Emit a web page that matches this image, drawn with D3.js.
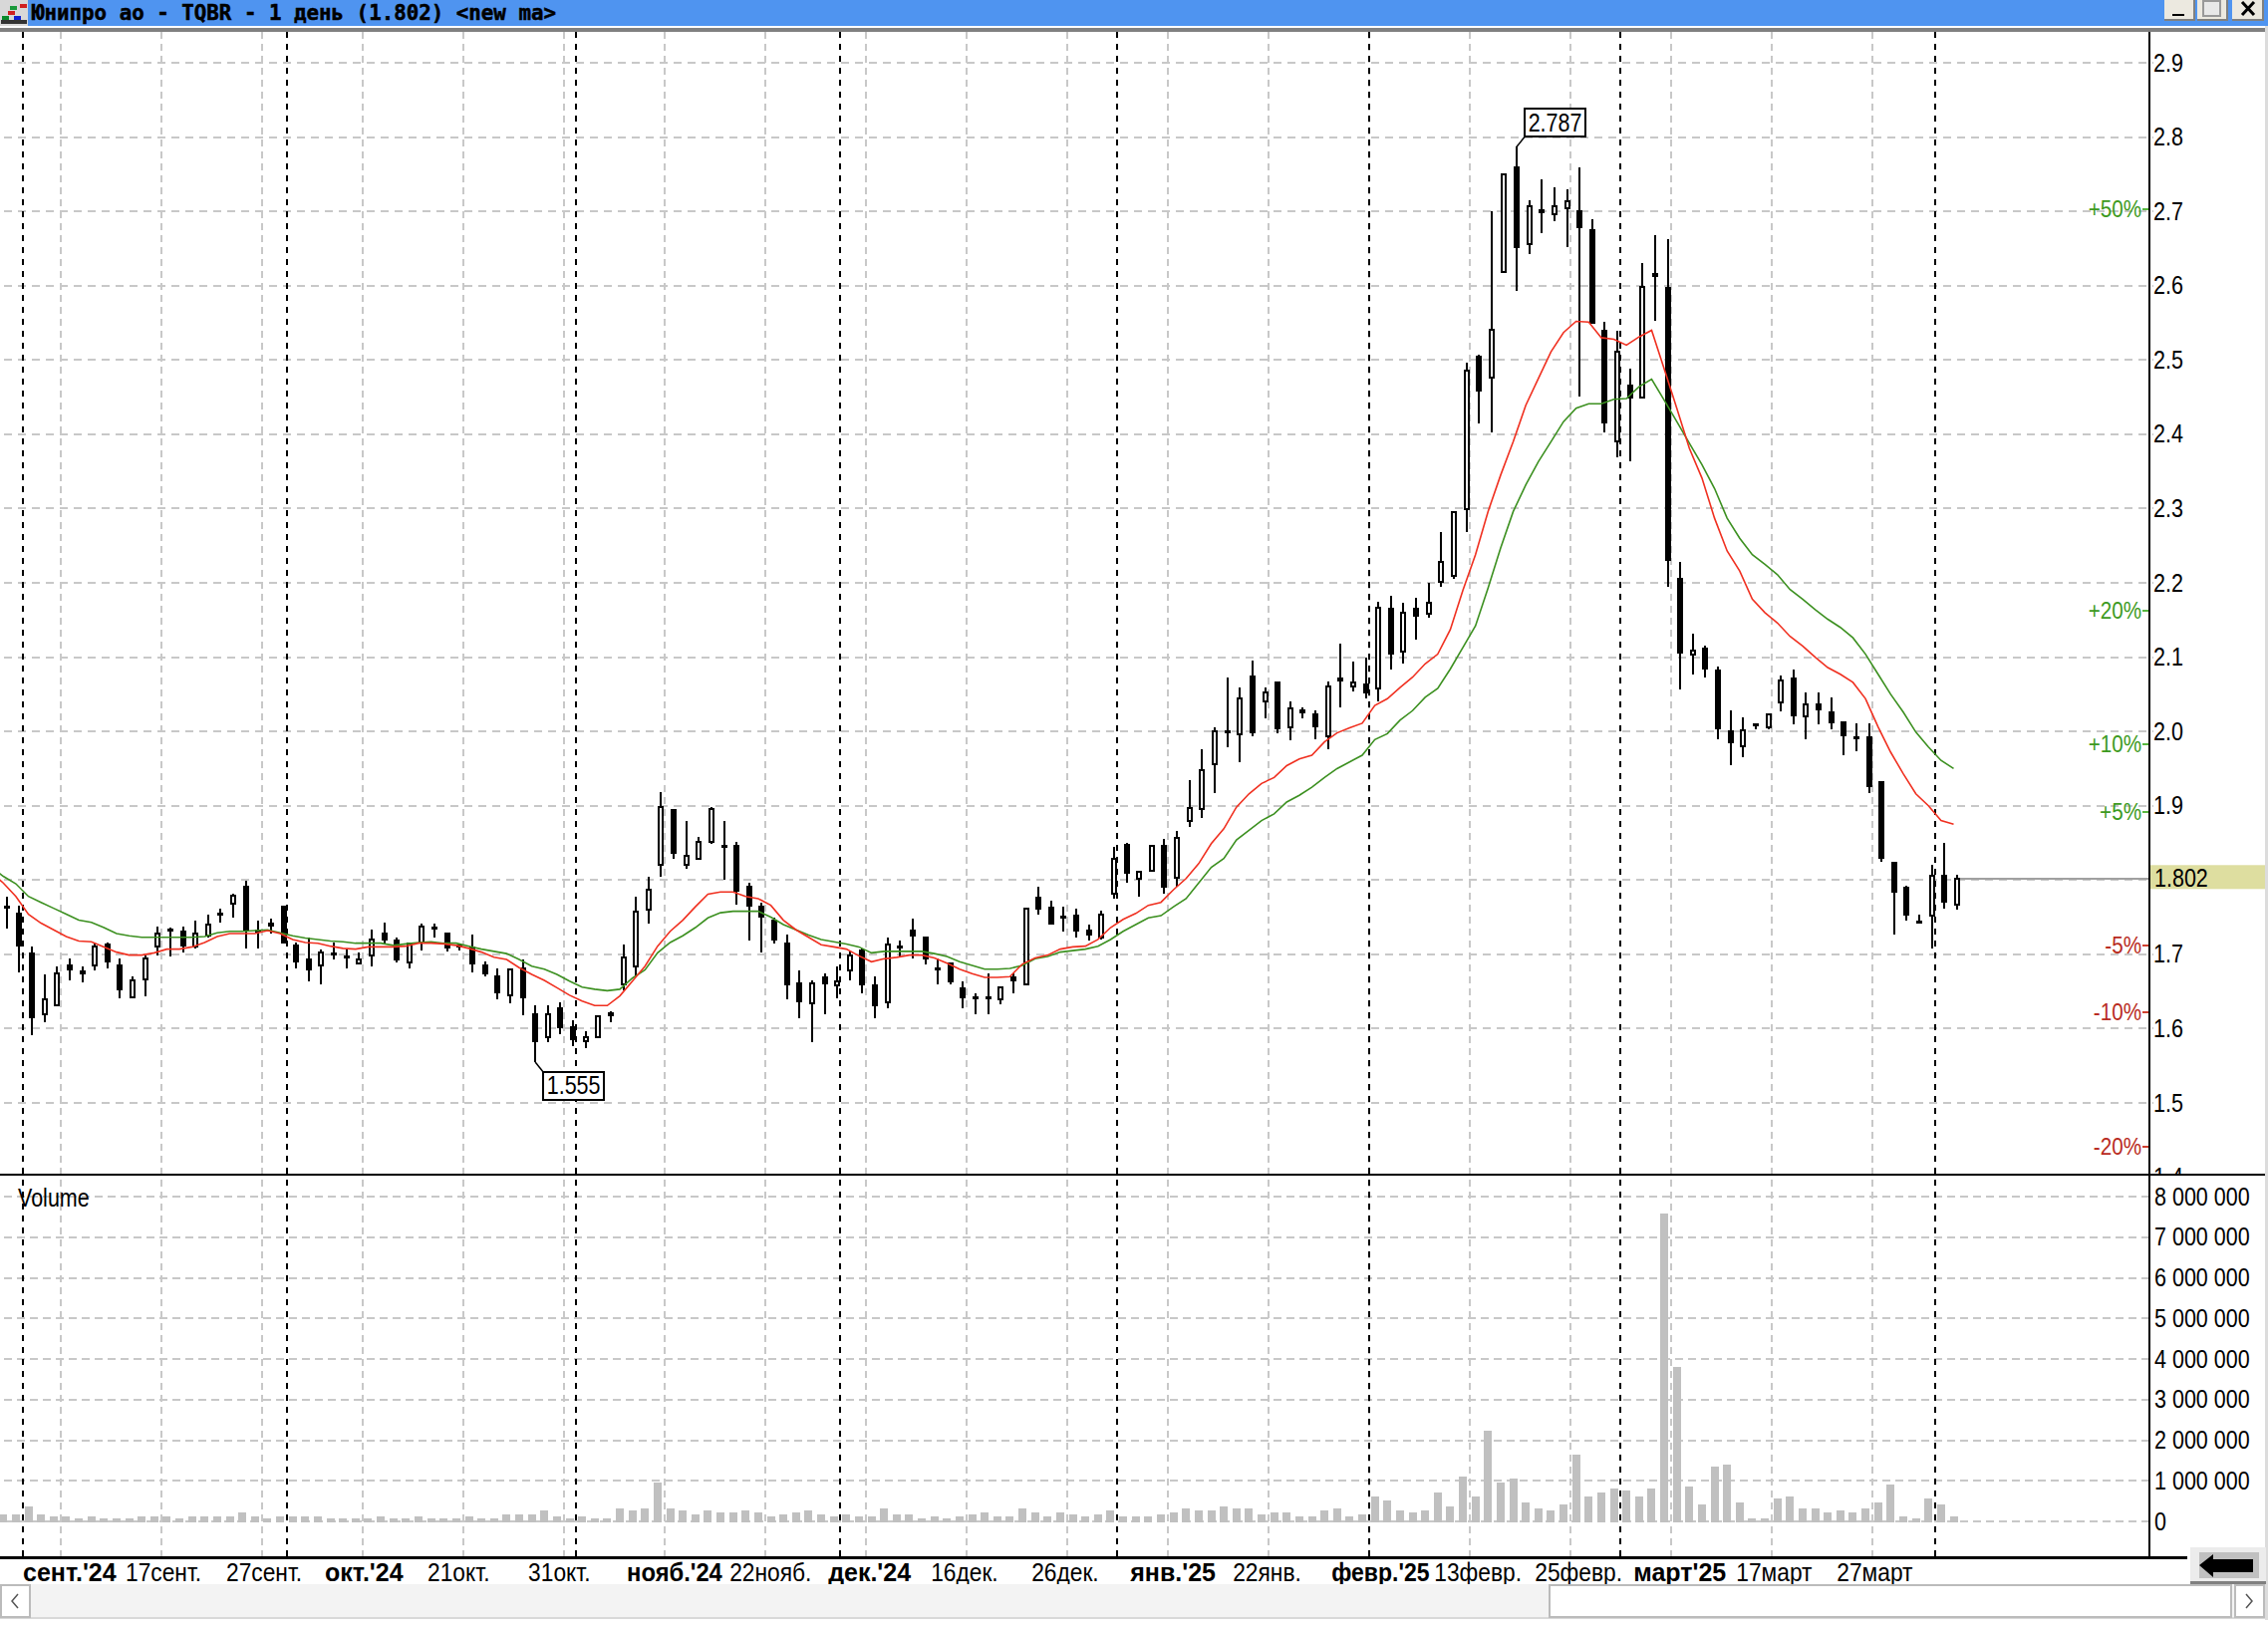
<!DOCTYPE html>
<html><head><meta charset="utf-8">
<style>html,body{margin:0;padding:0;background:#fff}svg{display:block}
text{font-family:"Liberation Sans",sans-serif}</style>
<script src="https://cdn.jsdelivr.net/npm/d3@7/dist/d3.min.js"></script>
</head><body><svg id="c" width="2276" height="1632"></svg>
<script>
const highs=[1.778,1.766,1.711,1.673,1.684,1.694,1.684,1.715,1.716,1.694,
1.670,1.699,1.737,1.736,1.737,1.745,1.754,1.761,1.782,1.799,
1.745,1.748,1.766,1.716,1.722,1.707,1.716,1.707,1.702,1.734,
1.743,1.723,1.716,1.742,1.742,1.729,1.715,1.726,1.690,1.681,
1.681,1.693,1.632,1.632,1.635,1.611,1.597,1.617,1.624,1.713,
1.778,1.804,1.918,1.896,1.879,1.858,1.898,1.879,1.852,1.796,
1.769,1.749,1.726,1.678,1.665,1.675,1.684,1.704,1.708,1.670,
1.723,1.718,1.748,1.724,1.694,1.689,1.664,1.648,1.675,1.657,
1.675,1.763,1.791,1.772,1.764,1.761,1.740,1.759,1.845,1.850,
1.812,1.847,1.855,1.866,1.935,1.976,2.005,2.073,2.059,2.096,
2.059,2.067,2.040,2.032,2.029,2.067,2.118,2.094,2.099,2.175,
2.183,2.173,2.180,2.200,2.268,2.297,2.496,2.507,2.700,2.751,
2.787,2.715,2.743,2.732,2.730,2.759,2.689,2.552,2.539,2.488,
2.630,2.668,2.663,2.228,2.132,2.115,2.088,2.029,2.019,2.0105,
2.024,2.075,2.083,2.053,2.053,2.046,2.014,2.011,2.011,1.933,
1.825,1.793,1.753,1.820,1.850,1.807];
const lows=[1.735,1.676,1.591,1.609,1.630,1.665,1.662,1.679,1.681,1.641,
1.641,1.643,1.699,1.697,1.703,1.708,1.722,1.743,1.749,1.708,
1.708,1.728,1.714,1.681,1.663,1.660,1.693,1.681,1.687,1.684,
1.715,1.689,1.681,1.705,1.722,1.704,1.705,1.676,1.670,1.639,
1.634,1.618,1.555,1.582,1.593,1.576,1.574,1.588,1.609,1.652,
1.670,1.741,1.804,1.829,1.815,1.829,1.848,1.801,1.767,1.719,
1.702,1.714,1.639,1.614,1.582,1.620,1.641,1.665,1.647,1.614,
1.628,1.697,1.695,1.687,1.660,1.660,1.628,1.620,1.620,1.633,
1.647,1.660,1.754,1.740,1.730,1.722,1.719,1.720,1.775,1.797,
1.778,1.813,1.781,1.791,1.871,1.883,1.917,1.979,1.958,1.993,
2.017,1.998,1.988,2.017,1.990,1.976,2.032,2.054,2.044,2.040,
2.084,2.092,2.124,2.153,2.195,2.205,2.269,2.414,2.403,2.618,
2.593,2.642,2.671,2.687,2.652,2.451,2.549,2.403,2.369,2.363,
2.448,2.553,2.194,2.057,2.076,2.073,1.990,1.955,1.965,2.003,
2.003,2.027,2.009,1.990,2.009,2.003,1.968,1.974,1.917,1.824,
1.727,1.746,1.743,1.708,1.762,1.760];
const opens=[1.766,1.756,1.703,1.620,1.631,1.686,1.678,1.685,1.715,1.686,
1.642,1.666,1.711,1.735,1.732,1.710,1.725,1.756,1.768,1.793,
1.734,1.743,1.766,1.713,1.694,1.685,1.702,1.699,1.688,1.698,
1.729,1.720,1.689,1.716,1.737,1.729,1.713,1.710,1.686,1.672,
1.645,1.682,1.621,1.588,1.629,1.603,1.583,1.588,1.622,1.659,
1.684,1.760,1.821,1.896,1.821,1.829,1.851,1.847,1.847,1.793,
1.766,1.747,1.716,1.662,1.634,1.670,1.658,1.679,1.707,1.659,
1.636,1.712,1.734,1.724,1.683,1.689,1.656,1.643,1.643,1.639,
1.670,1.660,1.778,1.764,1.752,1.753,1.734,1.722,1.782,1.849,
1.802,1.813,1.847,1.803,1.880,1.896,1.956,2.002,1.996,2.075,
2.041,2.067,2.006,2.030,2.024,1.993,2.073,2.060,2.065,2.058,
2.166,2.108,2.166,2.159,2.202,2.210,2.299,2.506,2.476,2.618,
2.761,2.656,2.703,2.696,2.704,2.702,2.676,2.541,2.390,2.467,
2.449,2.617,2.598,2.207,2.104,2.113,2.083,2.002,1.980,2.0105,
2.005,2.039,2.072,2.020,2.038,2.027,2.014,1.994,1.994,1.933,
1.824,1.791,1.745,1.752,1.807,1.767];
const closes=[1.762,1.711,1.614,1.640,1.675,1.679,1.673,1.710,1.689,1.652,
1.665,1.694,1.728,1.733,1.710,1.728,1.740,1.754,1.779,1.731,
1.731,1.737,1.714,1.689,1.679,1.702,1.701,1.695,1.693,1.720,
1.719,1.692,1.715,1.737,1.733,1.708,1.712,1.687,1.673,1.647,
1.680,1.641,1.582,1.619,1.601,1.584,1.589,1.616,1.617,1.696,
1.758,1.787,1.898,1.835,1.833,1.852,1.895,1.846,1.784,1.764,
1.749,1.719,1.658,1.636,1.661,1.660,1.664,1.699,1.658,1.630,
1.713,1.711,1.724,1.693,1.682,1.662,1.641,1.639,1.642,1.656,
1.663,1.761,1.760,1.740,1.751,1.730,1.725,1.753,1.828,1.808,
1.811,1.846,1.789,1.857,1.897,1.948,2.000,1.998,2.045,1.998,
2.052,2.003,2.031,2.025,2.006,2.061,2.067,2.066,2.051,2.166,
2.103,2.160,2.154,2.173,2.228,2.295,2.485,2.457,2.541,2.750,
2.650,2.707,2.698,2.707,2.713,2.677,2.549,2.414,2.511,2.448,
2.598,2.612,2.229,2.105,2.109,2.084,2.003,1.984,2.002,2.009,
2.023,2.069,2.020,2.037,2.028,2.011,1.993,1.990,1.925,1.829,
1.783,1.752,1.7435,1.806,1.770,1.802];
// moving averages: first value belongs to the bar just left of the visible window
const maRed=[1.811,1.796,1.778,1.754,1.742,1.733,1.724,1.718,1.717,1.710,1.703,
1.699,1.699,1.702,1.707,1.707,1.710,1.716,1.724,1.728,1.728,
1.728,1.732,1.728,1.720,1.716,1.715,1.711,1.708,1.707,1.710,
1.710,1.710,1.711,1.715,1.715,1.714,1.712,1.708,1.703,1.696,
1.693,1.682,1.673,1.665,1.655,1.645,1.637,1.631,1.631,1.644,
1.664,1.684,1.711,1.731,1.746,1.764,1.781,1.784,1.784,1.778,
1.775,1.766,1.746,1.733,1.723,1.713,1.710,1.707,1.698,1.690,
1.694,1.696,1.699,1.699,1.695,1.688,1.680,1.674,1.669,1.669,
1.670,1.687,1.695,1.699,1.707,1.710,1.711,1.720,1.736,1.747,
1.755,1.766,1.770,1.787,1.802,1.822,1.849,1.869,1.898,1.916,
1.930,1.938,1.954,1.963,1.968,1.986,1.998,2.005,2.011,2.035,
2.044,2.059,2.073,2.091,2.104,2.137,2.190,2.238,2.296,2.345,
2.390,2.439,2.475,2.511,2.537,2.552,2.551,2.530,2.528,2.520,
2.531,2.540,2.488,2.435,2.381,2.341,2.287,2.243,2.216,2.178,
2.160,2.146,2.128,2.115,2.100,2.086,2.077,2.066,2.044,2.006,
1.972,1.943,1.916,1.900,1.880,1.875];
const maGreen=[1.818,1.805,1.795,1.778,1.770,1.762,1.754,1.746,1.743,1.736,1.728,
1.725,1.723,1.723,1.723,1.723,1.723,1.724,1.729,1.731,1.731,
1.732,1.733,1.729,1.725,1.722,1.720,1.718,1.717,1.715,1.715,
1.715,1.712,1.714,1.716,1.717,1.715,1.715,1.711,1.707,1.704,
1.701,1.693,1.684,1.680,1.673,1.664,1.656,1.653,1.651,1.653,
1.668,1.679,1.702,1.716,1.725,1.736,1.749,1.756,1.758,1.758,
1.758,1.750,1.740,1.733,1.726,1.720,1.717,1.714,1.710,1.702,
1.704,1.704,1.704,1.704,1.701,1.697,1.690,1.685,1.680,1.680,
1.681,1.685,1.694,1.697,1.703,1.705,1.707,1.711,1.720,1.731,
1.740,1.749,1.752,1.764,1.775,1.796,1.817,1.829,1.854,1.867,
1.880,1.889,1.905,1.914,1.925,1.938,1.950,1.959,1.968,1.989,
1.997,2.015,2.028,2.046,2.058,2.084,2.113,2.142,2.193,2.247,
2.296,2.332,2.363,2.390,2.417,2.435,2.441,2.441,2.447,2.448,
2.464,2.474,2.446,2.417,2.388,2.359,2.327,2.287,2.260,2.238,
2.225,2.211,2.191,2.178,2.164,2.151,2.140,2.126,2.104,2.077,
2.050,2.026,1.999,1.979,1.961,1.950];
// volume, millions of shares
const volumes=[.17,.17,.36,.17,.115,.115,.065,.115,.065,.065,.065,.115,.115,.115,.065,.115,.115,.115,.115,.22,
.115,.065,.115,.115,.115,.115,.065,.065,.065,.065,.115,.065,.065,.115,.065,.065,.065,.115,.065,.065,
.17,.17,.17,.27,.115,.065,.115,.065,.065,.31,.27,.31,.96,.31,.27,.17,.27,.22,.22,.27,
.22,.115,.17,.22,.27,.17,.115,.17,.115,.115,.31,.17,.17,.065,.115,.065,.115,.17,.22,.115,
.115,.31,.22,.12,.22,.17,.12,.17,.27,.12,.12,.12,.17,.22,.32,.27,.27,.37,.32,.32,
.17,.22,.22,.12,.12,.27,.32,.12,.17,.61,.52,.27,.22,.27,.71,.37,1.11,.61,2.24,.96,
1.06,.47,.32,.27,.42,1.65,.61,.71,.81,.76,.61,.81,7.58,3.80,.86,.42,1.35,1.40,.47,.07,
.07,.57,.61,.32,.32,.22,.27,.22,.32,.47,.91,.12,.07,.57,.42,.12];
const priceTicks=[1.4,1.5,1.6,1.7,1.8,1.9,2.0,2.1,2.2,2.3,2.4,2.5,2.6,2.7,2.8,2.9];
const volumeTicks=[0,1,2,3,4,5,6,7,8];
const pctLevels=[50,20,10,5,-5,-10,-20];
const lastPrice=1.802;
const monthBars=[1,22,45,66,88,108,128,153];
const gridBars=[4,12,20,28,36,44,52,60,68,76,84,92,100,108,116,124,132,140,148];
const dateLabels=["сент.'24","17сент.","27сент.","окт.'24","21окт.","31окт.","нояб.'24","22нояб.","дек.'24","16дек.","26дек.","янв.'25","22янв.","февр.'25","13февр.","25февр.","март'25","17март","27март"];
const dateBars=[4,12,20,28,36,44,52,60,68,76,84,92,100,108,116,124,132,140,148];
const boldDates=["сент.'24","окт.'24","нояб.'24","дек.'24","янв.'25","февр.'25","март'25"];

const svg=d3.select("#c");
const AX=2157,TOP=32,DIV=1179,BOT=1563;
const x=d3.scaleLinear().domain([0,155]).range([6.8,1964]);
const y=d3.scaleLinear().domain([1.5,2.9]).range([1107,63]);
const yv=d3.scaleLinear().domain([0,8]).range([1527,1201]);
const GRIDOFF=3.2,LINEOFF=-3.5;
const GREY="#c8c8c8";
const crisp=g=>g.attr("shape-rendering","crispEdges");
const narrow=(sel,k=0.86)=>sel.each(function(){
 const w=this.getComputedTextLength();
 d3.select(this).attr("textLength",w*k).attr("lengthAdjust","spacingAndGlyphs");
});
const defs=svg.append("defs");
defs.append("clipPath").attr("id","pp").append("rect").attr("x",0).attr("y",TOP).attr("width",2276).attr("height",DIV-TOP-1);

// grid
const grid=svg.append("g").call(crisp);
grid.selectAll(".h").data(priceTicks.filter(d=>d>=1.5)).join("line")
 .attr("x1",4).attr("x2",AX+4).attr("y1",d=>Math.round(y(d))).attr("y2",d=>Math.round(y(d)))
 .attr("stroke",GREY).attr("stroke-width",2).attr("stroke-dasharray","8 6");
grid.selectAll(".hv").data(volumeTicks).join("line")
 .attr("x1",4).attr("x2",AX).attr("y1",d=>Math.round(yv(d))).attr("y2",d=>Math.round(yv(d)))
 .attr("stroke",GREY).attr("stroke-width",2).attr("stroke-dasharray","8 5");
grid.selectAll(".v").data(gridBars).join("line")
 .attr("x1",d=>Math.round(x(d)+GRIDOFF)).attr("x2",d=>Math.round(x(d)+GRIDOFF)).attr("y1",TOP).attr("y2",BOT)
 .attr("stroke",GREY).attr("stroke-width",2).attr("stroke-dasharray","7 5");
grid.selectAll(".m").data(monthBars).join("line")
 .attr("x1",d=>Math.round(x(d)+GRIDOFF)).attr("x2",d=>Math.round(x(d)+GRIDOFF)).attr("y1",TOP).attr("y2",BOT)
 .attr("stroke","#000").attr("stroke-width",2).attr("stroke-dasharray","6 6");

// volume bars
svg.append("g").call(crisp).selectAll("rect").data(volumes).join("rect")
 .attr("x",(d,i)=>Math.round(x(i)+LINEOFF-4)).attr("width",8)
 .attr("y",d=>yv(d)).attr("height",d=>yv(0)-yv(d)+1).attr("fill","#c0c0c0");

// last price line
svg.append("line").attr("x1",x(155)-3).attr("x2",AX).attr("y1",Math.round(y(lastPrice))).attr("y2",Math.round(y(lastPrice)))
 .attr("stroke","#a0a0a0").attr("stroke-width",2).call(crisp);

// candles
const cg=svg.append("g").call(crisp);
highs.forEach((h,i)=>{
 const cx=Math.round(x(i));
 cg.append("line").attr("x1",cx).attr("x2",cx).attr("y1",y(h)).attr("y2",y(lows[i])).attr("stroke","#000").attr("stroke-width",2);
 const up=closes[i]>opens[i];
 const t=y(Math.max(opens[i],closes[i])),b=y(Math.min(opens[i],closes[i]));
 const H=Math.max(b-t,3);
 if(up) cg.append("rect").attr("x",cx-2).attr("y",t).attr("width",4).attr("height",H).attr("fill","#fff").attr("stroke","#000").attr("stroke-width",2);
 else cg.append("rect").attr("x",cx-3).attr("y",t).attr("width",6).attr("height",H).attr("fill","#000");
});

// moving averages
const lineGen=d3.line().x((d,i)=>x(i-1)+LINEOFF).y(d=>y(d));
svg.append("path").attr("d",lineGen(maGreen)).attr("fill","none").attr("stroke","#3c9020").attr("stroke-width",1.6);
svg.append("path").attr("d",lineGen(maRed)).attr("fill","none").attr("stroke","#f03020").attr("stroke-width",1.6);

// extreme callouts
function callout(i,val,txt,bx,by){
 const cx=x(i);
 const W=61,H=28;
 const ly=y(val);
 svg.append("path").attr("d",by>ly?`M${cx},${ly}L${bx},${by}`:`M${cx},${ly}L${bx},${by+H}`).attr("fill","none").attr("stroke","#000").attr("stroke-width",1.5);
 svg.append("rect").attr("x",bx).attr("y",by).attr("width",W).attr("height",H).attr("fill","#fff").attr("stroke","#000").attr("stroke-width",2).call(crisp);
 svg.append("text").attr("x",bx+W/2).attr("y",by+H/2+8.5).attr("text-anchor","middle").attr("font-size",25).attr("fill","#000").text(txt).call(narrow);
}
const iLow=lows.indexOf(d3.min(lows)),iHigh=highs.indexOf(d3.max(highs));
callout(iLow,d3.min(lows),"1.555",x(iLow)+8,y(d3.min(lows))+10);
callout(iHigh,d3.max(highs),"2.787",x(iHigh)+8,y(d3.max(highs))-38);

// last price tag
svg.append("rect").attr("x",AX+1).attr("y",y(lastPrice)-13.5).attr("width",116).attr("height",24).attr("fill","#dedea0");

// axes (the 1.8 tick is replaced by the last price tag)
const axP=svg.append("g").attr("clip-path","url(#pp)").append("g").attr("transform",`translate(${AX},0)`)
 .call(d3.axisRight(y).tickValues(priceTicks.filter(d=>d!==1.8)).tickSize(0).tickPadding(4).tickFormat(d3.format(".1f")));
axP.select(".domain").remove();
axP.selectAll("text").attr("font-size",25).attr("fill","#000").call(narrow);
const axV=svg.append("g").attr("transform",`translate(${AX},0)`)
 .call(d3.axisRight(yv).tickValues(volumeTicks).tickSize(0).tickPadding(5).tickFormat(d=>d===0?"0":d+" 000 000"));
axV.select(".domain").remove();
axV.selectAll("text").attr("font-size",25).attr("fill","#000").call(narrow);
svg.append("text").attr("x",AX+5).attr("y",y(lastPrice)+8).attr("font-size",25).attr("fill","#000").text(d3.format(".3f")(lastPrice)).call(narrow);

// percent levels
const pg=svg.append("g");
pctLevels.forEach(p=>{
 const py=y(lastPrice*(1+p/100));
 const col=p>0?"#3c9a20":"#b82a20";
 pg.append("text").attr("x",AX-8).attr("y",py+8).attr("text-anchor","end").attr("font-size",24).attr("fill",col).text((p>0?"+":"")+p+"%").call(narrow);
 pg.append("line").attr("x1",AX-7).attr("x2",AX).attr("y1",py).attr("y2",py).attr("stroke",p>0?"#58b840":"#d04030").attr("stroke-width",2).call(crisp);
});

svg.append("text").attr("x",18).attr("y",1211).attr("font-size",25).attr("fill","#000").text("Volume").call(narrow);

// frame lines
const fr=svg.append("g").call(crisp);
fr.append("line").attr("x1",AX).attr("x2",AX).attr("y1",TOP).attr("y2",BOT).attr("stroke","#000").attr("stroke-width",2);
fr.append("line").attr("x1",0).attr("x2",2274).attr("y1",DIV).attr("y2",DIV).attr("stroke","#000").attr("stroke-width",2.5);
fr.append("line").attr("x1",0).attr("x2",2195).attr("y1",BOT).attr("y2",BOT).attr("stroke","#000").attr("stroke-width",3);

// date labels
const boldFit={"февр.'25":0.92,"нояб.'24":0.95};
dateLabels.forEach((t,i)=>{
 const b=boldDates.includes(t);
 svg.append("text").attr("x",x(dateBars[i])+GRIDOFF-(b?37.5:35.5)).attr("y",1587)
  .attr("font-size",25).attr("font-weight",b?700:400)
  .attr("fill","#000").text(t).call(narrow,b?(boldFit[t]||1):0.91);
});

// window chrome
const ch=svg.append("g").call(crisp);
ch.append("rect").attr("x",0).attr("y",0).attr("width",2276).attr("height",26).attr("fill","#4f94f0");
ch.append("rect").attr("x",0).attr("y",26).attr("width",2276).attr("height",2).attr("fill","#fff");
ch.append("rect").attr("x",0).attr("y",28).attr("width",2273).attr("height",4).attr("fill","#808080");
ch.append("rect").attr("x",2273).attr("y",26).attr("width",3).attr("height",1600).attr("fill","#dcdcdc");
// icon
ch.append("rect").attr("x",0).attr("y",0).attr("width",28).attr("height",26).attr("fill","#d8d8d8");
ch.append("rect").attr("x",1).attr("y",20).attr("width",26).attr("height",4).attr("fill","#333");
[[2,16,"#0a8a2a"],[8,11,"#d02020"],[14,16,"#1020d0"],[20,4,"#d02020"],[10,6,"#1a9a3a"]].forEach(r=>{
 ch.append("rect").attr("x",r[0]).attr("y",r[1]).attr("width",7).attr("height",4).attr("fill",r[2]);
});
svg.append("text").attr("x",32).attr("y",19.5).attr("font-size",20.5).attr("font-weight",700)
 .style("font-family",'"DejaVu Sans Mono"').attr("textLength",526).attr("lengthAdjust","spacingAndGlyphs")
 .attr("fill","#000").attr("stroke","#000").attr("stroke-width",0.5).text("Юнипро ао - TQBR - 1 день (1.802) <new ma>");
[[2172,"_"],[2205,"▭"],[2240,"✕"]].forEach((b,i)=>{
 const w=i==2?32:31;
 ch.append("rect").attr("x",b[0]).attr("y",0).attr("width",w).attr("height",21).attr("fill","#808080");
 ch.append("rect").attr("x",b[0]).attr("y",0).attr("width",w-2).attr("height",19).attr("fill","#ece9e0");
});
ch.append("rect").attr("x",2180).attr("y",14).attr("width",12).attr("height",2).attr("fill","#000");
ch.append("rect").attr("x",2211).attr("y",1).attr("width",17).attr("height",15).attr("fill","#e8e8e8").attr("stroke","#999").attr("stroke-width",2);
ch.append("path").attr("d","M2250,2L2262,15M2262,2L2250,15").attr("stroke","#000").attr("stroke-width",3).attr("fill","none").attr("shape-rendering","auto");

// back button
ch.append("rect").attr("x",2198).attr("y",1553).attr("width",76).attr("height",37).attr("fill","#ececec");
ch.append("rect").attr("x",2198).attr("y",1587).attr("width",76).attr("height",3).attr("fill","#808080");
ch.append("rect").attr("x",2207).attr("y",1558).attr("width",60).attr("height",26).attr("fill","#c0c0c0");
svg.append("path").attr("d","M2207,1571L2221,1560V1565H2261V1578H2221V1583Z").attr("fill","#000");

// scrollbar
ch.append("rect").attr("x",0).attr("y",1590).attr("width",2273).attr("height",33).attr("fill","#f3f3f3");
ch.append("rect").attr("x",0).attr("y",1623).attr("width",2273).attr("height",2).attr("fill","#d8d8d8");
ch.append("rect").attr("x",1).attr("y",1591).attr("width",29).attr("height",32).attr("fill","#fff").attr("stroke","#bbb").attr("stroke-width",2);
ch.append("rect").attr("x",1555).attr("y",1591).attr("width",684).attr("height",32).attr("fill","#fff").attr("stroke","#bbb").attr("stroke-width",2);
ch.append("rect").attr("x",2243).attr("y",1591).attr("width",29).attr("height",32).attr("fill","#fff").attr("stroke","#bbb").attr("stroke-width",2);
svg.append("path").attr("d","M18,1600L12,1607L18,1614").attr("fill","none").attr("stroke","#555").attr("stroke-width",1.5);
svg.append("path").attr("d","M2254,1600L2260,1607L2254,1614").attr("fill","none").attr("stroke","#555").attr("stroke-width",1.5);
</script></body></html>
